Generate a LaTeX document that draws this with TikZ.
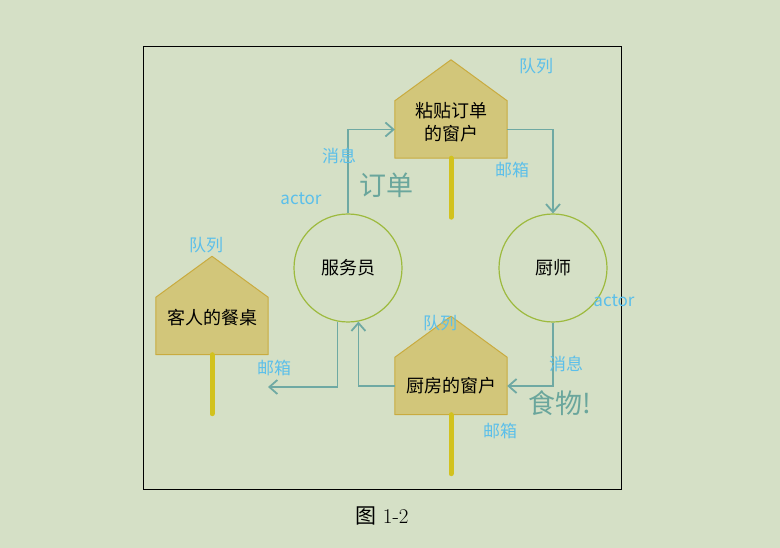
\documentclass[tikz,border=0pt]{standalone}
\usepackage{fontspec}
\newfontfamily\cjk{Noto Sans CJK SC}
\usepackage{tikz}
\usetikzlibrary{arrows.meta}
\usetikzlibrary{backgrounds}
\usetikzlibrary{positioning}
\definecolor{bgcol}{HTML}{D5E0C6}
\definecolor{housefill}{HTML}{D2C67A}
\definecolor{houseline}{HTML}{C9AB3F}
\definecolor{postcol}{HTML}{D2C21E}
\definecolor{circcol}{HTML}{9DBA3E}
\definecolor{msgcol}{HTML}{6FA9A3}
\definecolor{tagcol}{HTML}{5BBFEA}
\definecolor{bigcol}{HTML}{6AA69C}
\begin{document}
\begin{tikzpicture}[x=1pt,y=-1pt,
house/.style={minimum width=112pt,minimum height=57pt,inner sep=0pt,align=center,font=\cjk\fontsize{18}{23}\selectfont},
lifted/.style={text depth=#1},
roof/.style={fill=housefill,draw=houseline,line width=1pt,line join=round},
post/.style={draw=postcol,line width=5pt,line cap=round},
actor/.style={circle,draw=circcol,line width=1.2pt,minimum size=108pt,inner sep=0pt,font=\cjk\fontsize{18}{20}\selectfont},
msg/.style={draw=msgcol,line width=1.8pt,-{Straight Barb[length=8pt,width=14pt]}},
tag/.style={text=tagcol,font=\cjk\fontsize{17}{19}\selectfont},
big/.style={text=bigcol,font=\cjk\fontsize{27}{30}\selectfont}]
\useasboundingbox (0,0) rectangle (780,548);
\node[house,lifted=17pt] (orderwin) at (451,129.5) {粘贴订单\\的窗户};
\node[house,lifted=18pt] (table) at (212,326) {客人的餐桌};
\node[house] (kitchenwin) at (451,386) {厨房的窗户};
\begin{scope}[on background layer]
\fill[bgcol] (0,0) rectangle (780,548);
\foreach \h in {orderwin,table,kitchenwin}
  \draw[roof] (\h.south west) -- (\h.north west) -- ([yshift=41pt]\h.north) -- (\h.north east) -- (\h.south east) -- cycle;
\end{scope}
\draw (143,46) rectangle (621,489);
\foreach \h in {orderwin,table,kitchenwin}
  \draw[post] (\h.south) -- ++(0,59);
\node[actor] (waiter) at (348,268) {服务员};
\node[actor] (chef) at (553,268) {厨师};
\coordinate (tabledrop) at (268,387);
\draw[msg] (waiter.north) |- (orderwin.west);
\draw[msg] (orderwin.east) -| (chef.north);
\draw[msg] (chef.south) |- (kitchenwin.east);
\draw[msg] (kitchenwin.west) -| (waiter.-79);
\draw[msg] (waiter.-101) |- (tabledrop);
\node[tag] (queue1) at (536,66) {队列};
\node[tag] (note1) at (339,156) {消息};
\node[tag] (actor1) at (301,199) {actor};
\node[big] (order) at (386,185) {订单};
\node[tag] (box1) at (512,170) {邮箱};
\node[tag] (queue2) at (206,245) {队列};
\node[tag] (box2) at (274,368) {邮箱};
\node[tag] (actor2) at (614,301) {actor};
\node[tag] (queue3) at (440,323) {队列};
\node[tag] (note2) at (566,364) {消息};
\node[big] (food) at (560,403) {食物!};
\node[tag] (box3) at (500,431) {邮箱};
\node[font=\fontsize{21}{24}\selectfont] (caption) at (382,516) {{\cjk 图} 1-2};
\end{tikzpicture}
\end{document}
